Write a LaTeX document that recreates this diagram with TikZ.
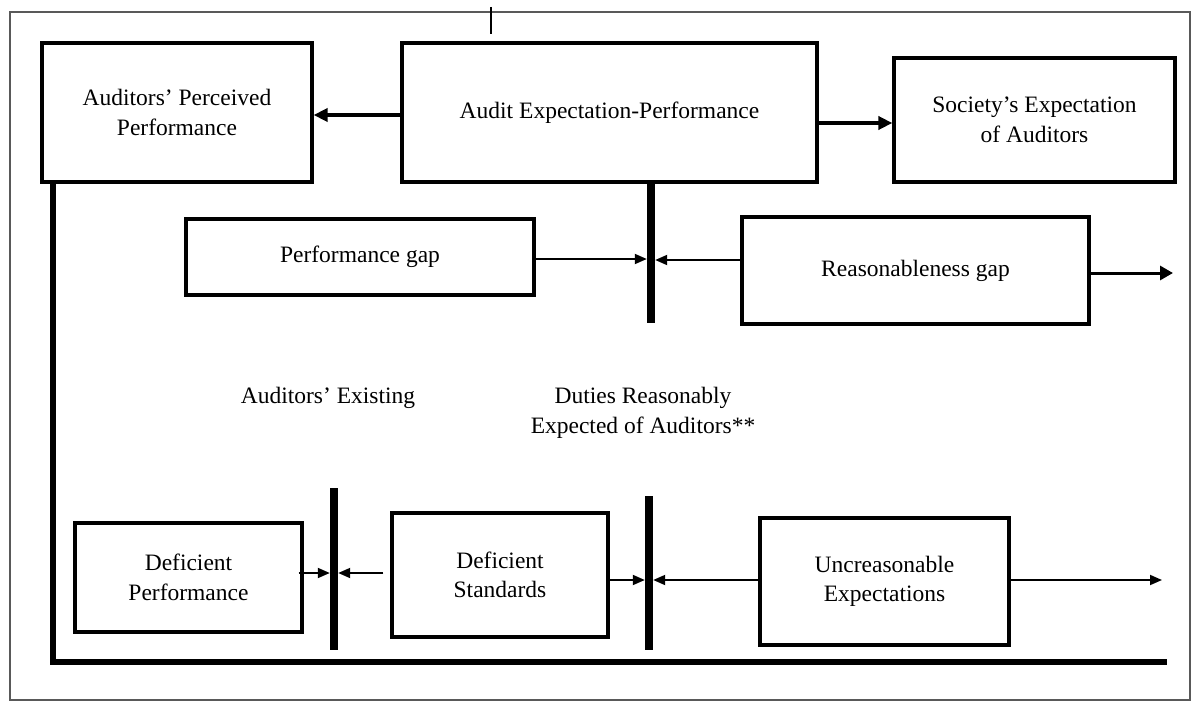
\documentclass[tikz,border=0pt]{standalone}
\usepackage{fontspec}
\setmainfont{Liberation Serif}
\usetikzlibrary{arrows.meta,calc}
\begin{document}
\begin{tikzpicture}[x=1pt,y=-1pt,
  box/.style={draw, line width=3.2pt, align=center, inner sep=0pt, font=\fontsize{23.5}{29.5}\selectfont},
  lbl/.style={align=center, inner sep=0pt, font=\fontsize{23.5}{29.5}\selectfont},
  bar/.style={fill=black, inner sep=0pt, minimum width=8pt},
  thickarrow/.style={line width=4pt, -{Triangle[length=14pt,width=13pt]}},
  thinarrow/.style={line width=1.8pt, -{Triangle[length=12pt,width=10pt]}},
  midarrow/.style={line width=3pt, -{Triangle[length=13pt,width=14pt]}},
  frame/.style={draw=black!65, line width=1.3pt},
  heavy/.style={line width=6pt, line join=miter}
]
\useasboundingbox (0,0) rectangle (1197,701);
\draw[frame] (10,12) rectangle (1190,700);

% boxes
\node[box, minimum width=270pt, minimum height=139pt] (perc) at (177,112.5) {Auditors’ Perceived\\Performance};
\node[box, minimum width=415pt, minimum height=139pt] (audit) at (609.5,112.5) {Audit Expectation-Performance};
\node[box, minimum width=281pt, minimum height=124pt] (soc) at (1034.5,120) {Society’s Expectation\\of Auditors};
\node[box, minimum width=348pt, minimum height=76pt] (pg) at (360,257) {Performance gap};
\node[box, minimum width=347pt, minimum height=107pt] (rg) at (915.5,270.5) {Reasonableness gap};
\node[box, minimum width=227pt, minimum height=109pt] (dp) at (188.5,577.5) {Deficient\\Performance};
\node[box, minimum width=216pt, minimum height=124pt] (ds) at (500,575) {Deficient\\Standards};
\node[box, minimum width=249pt, minimum height=127pt] (ue) at (884.5,581.5) {Uncreasonable\\Expectations};

% free labels
\node[lbl] (exist) at (328,398) {Auditors’ Existing};
\node[lbl] (duties) at (643,413) {Duties Reasonably\\Expected of Auditors**};

% bars
\node[bar, minimum height=141pt] (bar1) at (651,252.5) {};
\node[bar, minimum height=162pt] (bar2) at (334,569) {};
\node[bar, minimum height=154pt] (bar3) at (649,573) {};

% free ends
\coordinate (tickT) at (491,7);
\coordinate (tickB) at (491,34);
\coordinate (rgEnd) at (1173,273);
\coordinate (ueEnd) at (1162,580);
\coordinate (Lend) at (1167,662);

% connectors
\draw[line width=1.5pt] (tickT) -- (tickB);
\draw[thickarrow] ($(audit.west)+(0,2.5)$) -- ($(perc.east)+(0,2.5)$);
\draw[thickarrow] ($(soc.west -| audit.east)+(0,3)$) -- ($(soc.west)+(0,3)$);
\draw[thinarrow] ($(pg.east)+(0,2)$) -- ($(pg.east -| bar1.west)+(0,2)$);
\draw[thinarrow] ($(rg.west)+(0,-10.5)$) -- ($(rg.west -| bar1.east)+(0,-10.5)$);
\draw[midarrow] ($(rg.east)+(0,2.5)$) -- (rgEnd);
\draw[thinarrow] ($(dp.east)+(-5,-4.5)$) -- ($(dp.east -| bar2.west)+(0,-4.5)$);
\draw[thinarrow] ($(ds.west)+(-7,-2)$) -- ($(ds.west -| bar2.east)+(0,-2)$);
\draw[thinarrow] ($(ds.east)+(0,5)$) -- ($(ds.east -| bar3.west)+(0,5)$);
\draw[thinarrow] ($(ue.west)+(0,-1.5)$) -- ($(ue.west -| bar3.east)+(0,-1.5)$);
\draw[thinarrow] ($(ue.east)+(0,-1.5)$) -- (ueEnd);
\draw[heavy] ($(perc.south west)+(13,0)$) |- (Lend);
\end{tikzpicture}
\end{document}
